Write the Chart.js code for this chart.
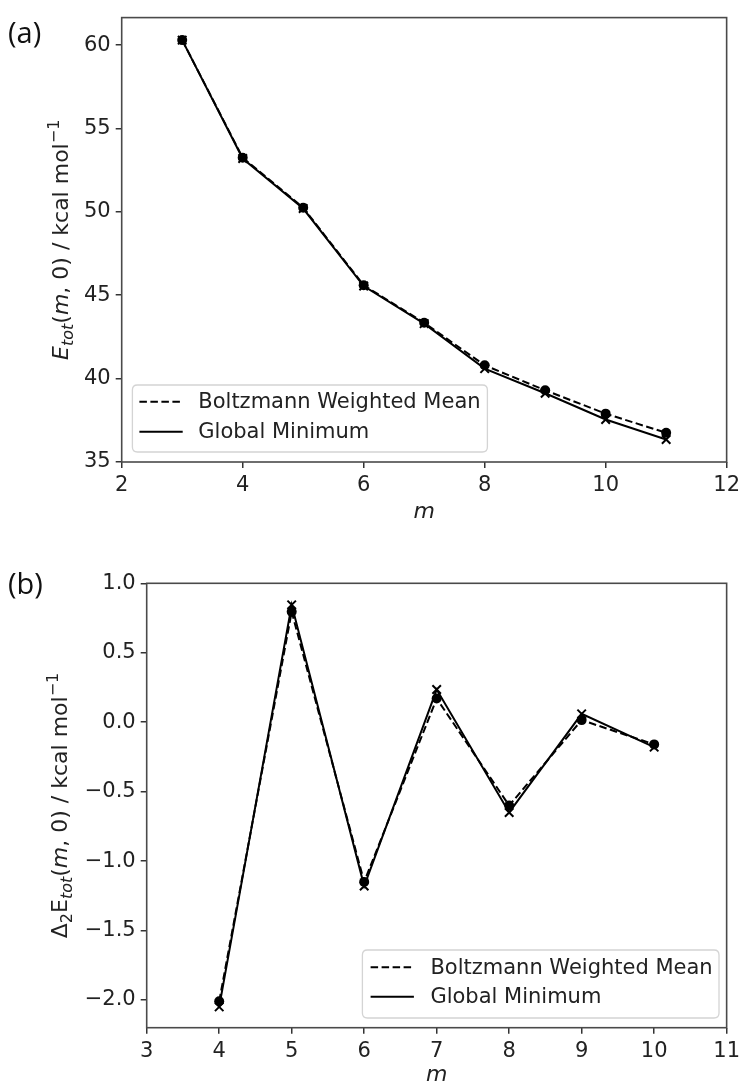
<!DOCTYPE html>
<html>
<head>
<meta charset="utf-8">
<script src="https://cdn.jsdelivr.net/npm/chart.js@4.4.0/dist/chart.umd.min.js"></script>
<style>
  html, body { margin: 0; padding: 0; background: #fff; }
  #wrap { position: relative; width: 745px; height: 1088px; }
  canvas { position: absolute; left: 0; }
</style>
</head>
<body>
<div id="wrap">
  <canvas id="chartA" width="745" height="530" style="top:0px"></canvas>
  <canvas id="chartB" width="745" height="548" style="top:540px"></canvas>
</div>
<script>
// (a) total energy vs m
var mA = [3, 4, 5, 6, 7, 8, 9, 10, 11];
var boltzmannA = [60.3, 53.25, 50.25, 45.6, 43.35, 40.8, 39.3, 37.9, 36.75];
var globalMinA = [60.3, 53.2, 50.2, 45.55, 43.3, 40.6, 39.12, 37.55, 36.35];
var xTicksA = [2, 4, 6, 8, 10, 12];
var yTicksA = [35, 40, 45, 50, 55, 60];

// (b) second difference vs m
var mB = [4, 5, 6, 7, 8, 9, 10];
var boltzmannB = [-2.01, 0.795, -1.15, 0.17, -0.6, 0.015, -0.16];
var globalMinB = [-2.05, 0.845, -1.18, 0.235, -0.65, 0.06, -0.18];
var xTicksB = [3, 4, 5, 6, 7, 8, 9, 10, 11];
var yTicksB = [-2.0, -1.5, -1.0, -0.5, 0.0, 0.5, 1.0];

var seriesNames = ['Boltzmann Weighted Mean', 'Global Minimum'];

var FONT = '"DejaVu Sans", sans-serif';

function pts(xs, ys) {
    return xs.map(function(x, i) { return {x: x, y: ys[i]}; });
}

function makeDatasets(xs, bw, gm) {
    return [{
        label: seriesNames[0],
        data: pts(xs, bw),
        borderColor: '#000',
        backgroundColor: '#000',
        borderWidth: 2,
        borderDash: [7.5, 3.5],
        pointStyle: 'circle',
        pointRadius: 5,
        pointBackgroundColor: '#000',
        pointBorderWidth: 0,
        tension: 0
    }, {
        label: seriesNames[1],
        data: pts(xs, gm),
        borderColor: '#000',
        backgroundColor: '#000',
        borderWidth: 2,
        pointStyle: 'crossRot',
        pointRadius: 6,
        pointBorderWidth: 2,
        tension: 0
    }];
}

// draws a line of text made of parts with different styles, centred on (x, y)
function drawRich(ctx, parts, x, y, rotate) {
    ctx.save();
    ctx.translate(x, y);
    if (rotate) ctx.rotate(-Math.PI / 2);
    var total = 0;
    parts.forEach(function(p) {
        ctx.font = (p.italic ? 'italic ' : '') + (p.size || 22) + 'px ' + FONT;
        p.w = ctx.measureText(p.t).width;
        total += p.w;
    });
    var cx = -total / 2;
    ctx.textBaseline = 'alphabetic';
    ctx.fillStyle = '#222';
    parts.forEach(function(p) {
        ctx.font = (p.italic ? 'italic ' : '') + (p.size || 22) + 'px ' + FONT;
        ctx.fillText(p.t, cx, p.dy || 0);
        cx += p.w;
    });
    ctx.restore();
}

function roundRect(ctx, x, y, w, h, r) {
    ctx.beginPath();
    ctx.moveTo(x + r, y);
    ctx.lineTo(x + w - r, y);
    ctx.quadraticCurveTo(x + w, y, x + w, y + r);
    ctx.lineTo(x + w, y + h - r);
    ctx.quadraticCurveTo(x + w, y + h, x + w - r, y + h);
    ctx.lineTo(x + r, y + h);
    ctx.quadraticCurveTo(x, y + h, x, y + h - r);
    ctx.lineTo(x, y + r);
    ctx.quadraticCurveTo(x, y, x + r, y);
    ctx.closePath();
}

var decoPlugin = {
    id: 'deco',
    afterDraw: function(chart, args, opts) {
        var ctx = chart.ctx;
        var a = chart.chartArea;
        ctx.save();
        // frame
        ctx.strokeStyle = '#4a4a4a';
        ctx.lineWidth = 1.6;
        ctx.strokeRect(a.left, a.top, a.right - a.left, a.bottom - a.top);

        // panel label
        ctx.fillStyle = '#111';
        ctx.font = '29px "Open Sans", ' + FONT;
        ctx.textBaseline = 'middle';
        ctx.textAlign = 'left';
        ctx.fillText(opts.panel, 8, opts.panelY);

        // axis titles
        drawRich(ctx, opts.yTitle, opts.yTitleX, (a.top + a.bottom) / 2, true);
        drawRich(ctx, [{t: 'm', italic: true}], (a.left + a.right) / 2, opts.xTitleY, false);

        // legend
        var L = opts.legend;
        roundRect(ctx, L.x, L.y, L.w, L.h, 5);
        ctx.fillStyle = 'rgba(255,255,255,0.85)';
        ctx.fill();
        ctx.strokeStyle = '#d4d4d4';
        ctx.lineWidth = 1.3;
        ctx.stroke();
        chart.data.datasets.forEach(function(ds, i) {
            var ly = L.rows[i];
            ctx.beginPath();
            ctx.setLineDash(ds.borderDash || []);
            ctx.moveTo(L.lineX0, ly);
            ctx.lineTo(L.lineX1, ly);
            ctx.strokeStyle = ds.borderColor;
            ctx.lineWidth = ds.borderWidth;
            ctx.stroke();
            ctx.setLineDash([]);
            ctx.fillStyle = '#222';
            ctx.font = '21px ' + FONT;
            ctx.textBaseline = 'middle';
            ctx.fillText(ds.label, L.textX, ly + 1);
        });
        ctx.restore();
    }
};

function axisOpts(min, max, ticks, fmt, fit) {
    return {
        type: 'linear',
        min: min,
        max: max,
        afterBuildTicks: function(s) { s.ticks = ticks.map(function(v) { return {value: v}; }); },
        afterFit: fit,
        grid: {drawOnChartArea: false, drawTicks: true, tickLength: 6, color: '#333', lineWidth: 1.5},
        border: {display: false},
        ticks: {
            font: {family: FONT, size: 21},
            color: '#222',
            padding: 5,
            maxRotation: 0,
            autoSkip: false,
            callback: fmt
        }
    };
}

function plainFmt(v) { return String(v); }
function signedFmt(v) { return v.toFixed(1).replace('-', '\u2212'); }

// chart (a)
new Chart(document.getElementById('chartA').getContext('2d'), {
    type: 'line',
    data: {datasets: makeDatasets(mA, boltzmannA, globalMinA)},
    options: {
        responsive: false,
        animation: false,
        devicePixelRatio: 1,
        layout: {padding: {top: 15, right: 745 - 729.3, left: 0, bottom: 0}},
        plugins: {
            legend: {display: false},
            tooltip: {enabled: false},
            deco: {
                panel: '(a)',
                panelY: 35,
                yTitleX: 68,
                xTitleY: 518,
                yTitle: [
                    {t: 'E', italic: true},
                    {t: 'tot', italic: true, size: 16, dy: 5},
                    {t: '('},
                    {t: 'm', italic: true},
                    {t: ', 0) / kcal mol'},
                    {t: '\u22121', size: 16, dy: -9}
                ],
                legend: {x: 132.4, y: 385, w: 355, h: 67, rows: [401.7, 431.7],
                         lineX0: 139.4, lineX1: 182.7, textX: 198.3}
            }
        },
        scales: {
            x: axisOpts(2, 12, xTicksA, plainFmt, function(s) { s.height = 68; }),
            y: axisOpts(35, 61.65, yTicksA, plainFmt, function(s) { s.width = 121.7; })
        }
    },
    plugins: [decoPlugin]
});

// chart (b)
new Chart(document.getElementById('chartB').getContext('2d'), {
    type: 'line',
    data: {datasets: makeDatasets(mB, boltzmannB, globalMinB)},
    options: {
        responsive: false,
        animation: false,
        devicePixelRatio: 1,
        layout: {padding: {top: 43.3, right: 745 - 729.3, left: 0, bottom: 0}},
        plugins: {
            legend: {display: false},
            tooltip: {enabled: false},
            deco: {
                panel: '(b)',
                panelY: 46,
                yTitleX: 67,
                xTitleY: 540.5,
                yTitle: [
                    {t: '\u0394'},
                    {t: '2', size: 16, dy: 5},
                    {t: 'E'},
                    {t: 'tot', italic: true, size: 16, dy: 5},
                    {t: '('},
                    {t: 'm', italic: true},
                    {t: ', 0) / kcal mol'},
                    {t: '\u22121', size: 16, dy: -9}
                ],
                legend: {x: 362.4, y: 410, w: 356.6, h: 68, rows: [427.3, 456.7],
                         lineX0: 370.6, lineX1: 413.9, textX: 430.4}
            }
        },
        scales: {
            x: axisOpts(3, 11, xTicksB, plainFmt, function(s) { s.height = 60.3; }),
            y: axisOpts(-2.2, 1.0, yTicksB, signedFmt, function(s) { s.width = 146.7; })
        }
    },
    plugins: [decoPlugin]
});
</script>
</body>
</html>
